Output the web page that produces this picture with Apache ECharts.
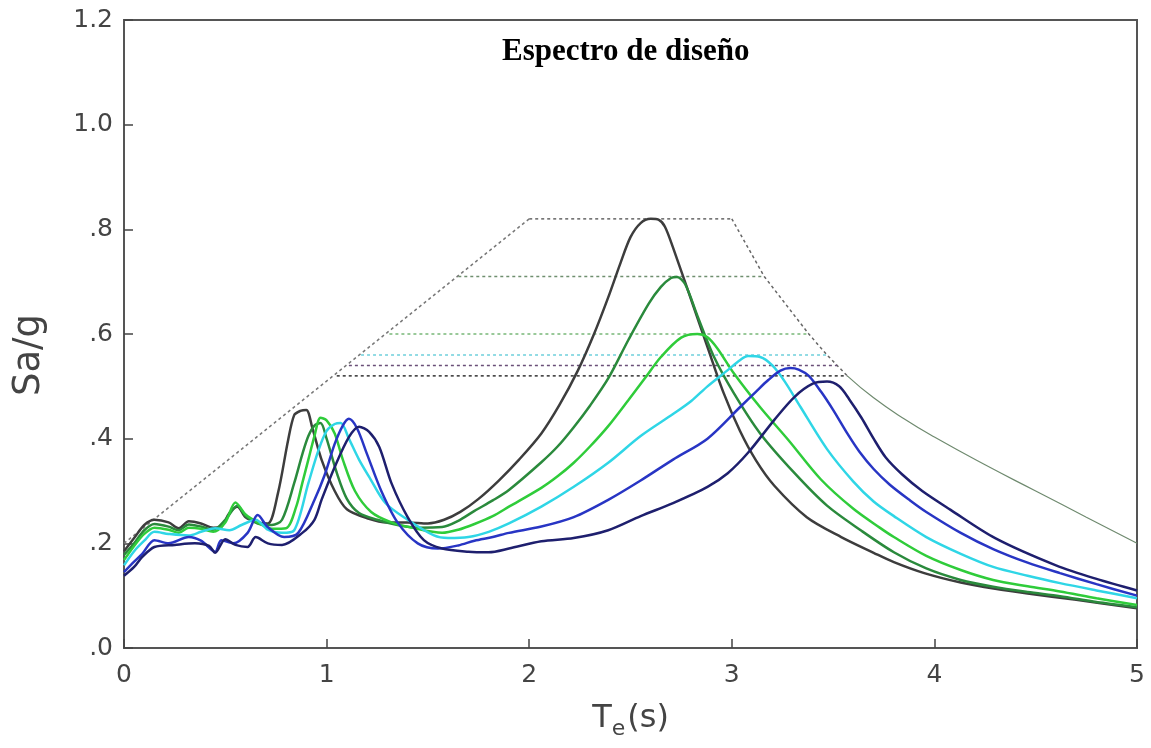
<!DOCTYPE html>
<html>
<head>
<meta charset="utf-8">
<script src="https://cdn.jsdelivr.net/npm/echarts@6/dist/echarts.min.js"></script>
<style>
  html, body { margin: 0; padding: 0; background: #fff; }
  #chart { width: 1151px; height: 748px; }
</style>
</head>
<body>
<div id="chart"></div>
<script>
// Axis ticks
const xTicks = [0, 1, 2, 3, 4, 5];
const yTicks = [0, 0.2, 0.4, 0.6, 0.8, 1.0, 1.2];

// Response spectra, [T (s), Sa/g]
const curveGray = [[0,0.185],[0.05,0.21],[0.1,0.235],[0.15,0.245],[0.22,0.24],[0.27,0.229],[0.32,0.242],[0.38,0.238],[0.44,0.23],[0.48,0.232],[0.52,0.258],[0.56,0.27],[0.6,0.25],[0.66,0.24],[0.71,0.238],[0.76,0.296],[0.81,0.397],[0.84,0.445],[0.87,0.453],[0.9,0.455],[0.93,0.42],[0.975,0.36],[1.04,0.30],[1.1,0.265],[1.2,0.248],[1.3,0.24],[1.4,0.24],[1.5,0.238],[1.58,0.245],[1.66,0.26],[1.75,0.285],[1.85,0.32],[1.95,0.36],[2.06,0.41],[2.15,0.465],[2.24,0.53],[2.32,0.60],[2.39,0.67],[2.45,0.735],[2.5,0.785],[2.55,0.812],[2.6,0.82],[2.64,0.818],[2.67,0.805],[2.71,0.765],[2.8,0.665],[2.88,0.575],[2.96,0.487],[3.04,0.415],[3.12,0.358],[3.21,0.31],[3.37,0.25],[3.54,0.212],[3.7,0.182],[3.8,0.164],[3.95,0.143],[4.13,0.125],[4.3,0.113],[4.46,0.104],[4.7,0.092],[5.0,0.076]];
const curveDarkGreen = [[0,0.178],[0.05,0.2],[0.1,0.225],[0.15,0.237],[0.22,0.232],[0.27,0.225],[0.32,0.236],[0.38,0.232],[0.44,0.226],[0.5,0.245],[0.56,0.272],[0.6,0.252],[0.66,0.238],[0.73,0.235],[0.78,0.245],[0.84,0.315],[0.88,0.37],[0.91,0.405],[0.94,0.425],[0.97,0.43],[1.0,0.40],[1.05,0.335],[1.1,0.285],[1.16,0.258],[1.25,0.245],[1.35,0.235],[1.45,0.23],[1.57,0.231],[1.65,0.243],[1.73,0.262],[1.82,0.282],[1.9,0.302],[2.06,0.355],[2.14,0.385],[2.22,0.422],[2.3,0.463],[2.39,0.515],[2.49,0.589],[2.59,0.658],[2.65,0.69],[2.7,0.707],[2.73,0.709],[2.77,0.695],[2.83,0.635],[2.91,0.558],[3.01,0.487],[3.14,0.41],[3.31,0.334],[3.47,0.272],[3.64,0.224],[3.8,0.183],[3.96,0.152],[4.13,0.13],[4.29,0.117],[4.46,0.107],[4.62,0.099],[4.8,0.088],[5.0,0.078]];
const curveGreen = [[0,0.168],[0.05,0.195],[0.1,0.218],[0.15,0.23],[0.22,0.226],[0.27,0.22],[0.32,0.23],[0.38,0.228],[0.44,0.222],[0.5,0.24],[0.55,0.278],[0.6,0.255],[0.66,0.24],[0.73,0.228],[0.8,0.229],[0.85,0.27],[0.88,0.315],[0.91,0.36],[0.94,0.405],[0.97,0.44],[1.0,0.435],[1.04,0.41],[1.08,0.36],[1.14,0.30],[1.22,0.26],[1.32,0.24],[1.42,0.23],[1.57,0.22],[1.65,0.226],[1.73,0.237],[1.82,0.252],[1.9,0.27],[2.06,0.306],[2.14,0.328],[2.22,0.354],[2.3,0.385],[2.39,0.424],[2.49,0.474],[2.57,0.515],[2.65,0.556],[2.75,0.593],[2.83,0.60],[2.88,0.594],[2.93,0.572],[3.01,0.525],[3.14,0.46],[3.28,0.397],[3.44,0.322],[3.6,0.266],[3.73,0.23],[3.8,0.212],[3.96,0.176],[4.13,0.149],[4.29,0.13],[4.46,0.118],[4.62,0.108],[4.8,0.095],[5.0,0.082]];
const curveCyan = [[0,0.158],[0.05,0.185],[0.1,0.205],[0.15,0.222],[0.22,0.218],[0.32,0.215],[0.38,0.222],[0.45,0.229],[0.52,0.225],[0.58,0.235],[0.65,0.245],[0.71,0.226],[0.78,0.22],[0.84,0.225],[0.91,0.315],[0.96,0.378],[1.0,0.415],[1.04,0.428],[1.07,0.43],[1.11,0.40],[1.16,0.36],[1.21,0.327],[1.29,0.277],[1.4,0.245],[1.53,0.215],[1.6,0.21],[1.7,0.212],[1.8,0.222],[1.9,0.238],[2.06,0.27],[2.22,0.308],[2.39,0.354],[2.55,0.405],[2.71,0.447],[2.8,0.472],[2.88,0.50],[2.98,0.531],[3.04,0.55],[3.08,0.558],[3.14,0.556],[3.2,0.54],[3.26,0.51],[3.34,0.46],[3.47,0.38],[3.6,0.318],[3.7,0.28],[3.8,0.252],[3.96,0.212],[4.13,0.18],[4.29,0.155],[4.46,0.138],[4.62,0.124],[4.8,0.11],[5.0,0.095]];
const curveBlue = [[0,0.145],[0.05,0.165],[0.09,0.18],[0.15,0.206],[0.22,0.20],[0.32,0.212],[0.38,0.205],[0.45,0.184],[0.48,0.206],[0.54,0.20],[0.61,0.22],[0.66,0.254],[0.71,0.231],[0.79,0.212],[0.86,0.22],[0.94,0.283],[0.99,0.33],[1.04,0.39],[1.08,0.425],[1.11,0.438],[1.15,0.42],[1.2,0.37],[1.27,0.30],[1.35,0.24],[1.45,0.2],[1.55,0.19],[1.65,0.196],[1.73,0.205],[1.82,0.212],[1.9,0.22],[2.06,0.232],[2.22,0.25],[2.39,0.283],[2.55,0.32],[2.71,0.36],[2.88,0.4],[3.04,0.46],[3.12,0.49],[3.18,0.512],[3.24,0.53],[3.29,0.535],[3.33,0.532],[3.38,0.52],[3.44,0.49],[3.5,0.455],[3.57,0.41],[3.63,0.375],[3.7,0.342],[3.78,0.312],[3.88,0.282],[3.96,0.26],[4.13,0.22],[4.29,0.189],[4.46,0.163],[4.62,0.143],[4.8,0.122],[5.0,0.10]];
const curveNavy = [[0,0.138],[0.05,0.155],[0.09,0.174],[0.15,0.193],[0.25,0.197],[0.35,0.20],[0.42,0.195],[0.45,0.182],[0.5,0.208],[0.55,0.197],[0.61,0.193],[0.65,0.212],[0.71,0.20],[0.78,0.197],[0.88,0.22],[0.94,0.245],[0.975,0.283],[1.04,0.346],[1.11,0.403],[1.16,0.423],[1.21,0.413],[1.26,0.384],[1.32,0.315],[1.4,0.25],[1.48,0.206],[1.57,0.19],[1.7,0.184],[1.8,0.183],[1.9,0.19],[2.06,0.204],[2.22,0.21],[2.39,0.225],[2.55,0.252],[2.71,0.277],[2.88,0.308],[2.98,0.334],[3.08,0.373],[3.21,0.436],[3.31,0.48],[3.4,0.505],[3.47,0.509],[3.53,0.50],[3.58,0.475],[3.64,0.44],[3.7,0.40],[3.76,0.364],[3.84,0.332],[3.94,0.30],[4.08,0.264],[4.3,0.21],[4.6,0.158],[4.8,0.132],[5.0,0.11]];

// Design spectrum outline
const designRise = [[0,0.2],[2.0,0.82]];
const designTop = [[2.0,0.82],[3.0,0.82]];
const designFall = [[3.0,0.82],[3.16,0.71],[3.38,0.60],[3.47,0.56],[3.52,0.54],[3.57,0.52]];
const designTail = [[3.57,0.52],[3.7,0.478],[3.85,0.438],[4.0,0.403],[4.25,0.35],[4.5,0.3],[4.75,0.25],[5.0,0.2]];
// plateau levels of the reduced spectra
const plateauLevel = [0.71, 0.60, 0.56, 0.54, 0.52];
const plateauStart = [1.65, 1.31, 1.17, 1.11, 1.05];
const plateauEnd = [3.16, 3.38, 3.47, 3.52, 3.57];
const plateauColor = ['#6f8f6f', '#78b878', '#6fd0dc', '#6a4f78', '#333333'];

const curves = [
    {data: curveGray, color: '#3d3d3d'},
    {data: curveDarkGreen, color: '#2a8a3c'},
    {data: curveGreen, color: '#2fcc3a'},
    {data: curveCyan, color: '#2fd6e6'},
    {data: curveBlue, color: '#2835c4'},
    {data: curveNavy, color: '#1e1f6e'},
];

const chart = echarts.init(document.getElementById('chart'));
const labelFont = 'DejaVu Sans';

let series = [];

// dashed design lines first so curves draw on top
const dashed = (data, color) => ({
    type: 'line', data: data, symbol: 'none', silent: true,
    lineStyle: {color: color, width: 1.5, type: [3, 3]},
});
series.push(dashed(designRise, '#777777'));
series.push(dashed(designTop, '#666666'));
series.push(dashed(designFall, '#666666'));
series.push({
    type: 'line', data: designTail, symbol: 'none', smooth: 0.5, silent: true,
    lineStyle: {color: '#6f8a6f', width: 1.2},
});
plateauLevel.forEach((lv, i) => {
    series.push(dashed([[plateauStart[i], lv], [plateauEnd[i], lv]], plateauColor[i]));
});

curves.forEach(c => {
    series.push({
        type: 'line',
        data: c.data,
        symbol: 'none',
        smooth: 0.3,
        lineStyle: {color: c.color, width: 2.5},
    });
});

chart.setOption({
    animation: false,
    backgroundColor: '#fff',
    title: {
        text: 'Espectro de diseño',
        left: 497,
        top: 31,
        textStyle: {
            fontFamily: 'Liberation Serif',
            fontWeight: 'bold',
            fontSize: 31,
            color: '#000',
        },
    },
    grid: {
        left: 124, right: 14, top: 20, bottom: 100,
        outerBoundsMode: 'none',
        show: true,
        borderColor: '#555',
        borderWidth: 2,
    },
    xAxis: {
        type: 'value',
        min: xTicks[0],
        max: xTicks[xTicks.length - 1],
        interval: 1,
        name: '{t|T}{e|e}{p|(s)}',
        nameLocation: 'middle',
        nameGap: 50,
        nameTextStyle: {
            rich: {
                t: {fontFamily: labelFont, fontSize: 32, color: '#444'},
                e: {fontFamily: labelFont, fontSize: 22, color: '#444', padding: [20, 2, 0, 0]},
                p: {fontFamily: labelFont, fontSize: 32, color: '#444'},
            },
        },
        axisLine: {show: true, lineStyle: {color: '#555', width: 2}},
        axisTick: {show: true, inside: true, length: 9, lineStyle: {color: '#444', width: 1.5}},
        axisLabel: {
            fontFamily: labelFont, fontSize: 25, color: '#444', margin: 15,
            formatter: v => String(v),
        },
        splitLine: {show: false},
    },
    yAxis: {
        type: 'value',
        min: yTicks[0],
        max: yTicks[yTicks.length - 1],
        interval: 0.2,
        name: 'Sa/g',
        nameLocation: 'middle',
        nameGap: 76,
        nameRotate: 90,
        nameTextStyle: {fontFamily: labelFont, fontSize: 37, color: '#444', padding: [0, 42, 0, 0]},
        axisLine: {show: true, lineStyle: {color: '#555', width: 2}},
        axisTick: {show: true, inside: true, length: 9, lineStyle: {color: '#444', width: 1.5}},
        axisLabel: {
            fontFamily: labelFont, fontSize: 25, color: '#444', margin: 11,
            formatter: v => {
                const s = v.toFixed(1);
                return v < 1 ? s.replace(/^0/, '') : s;
            },
        },
        splitLine: {show: false},
    },
    series: series,
});
</script>
</body>
</html>
